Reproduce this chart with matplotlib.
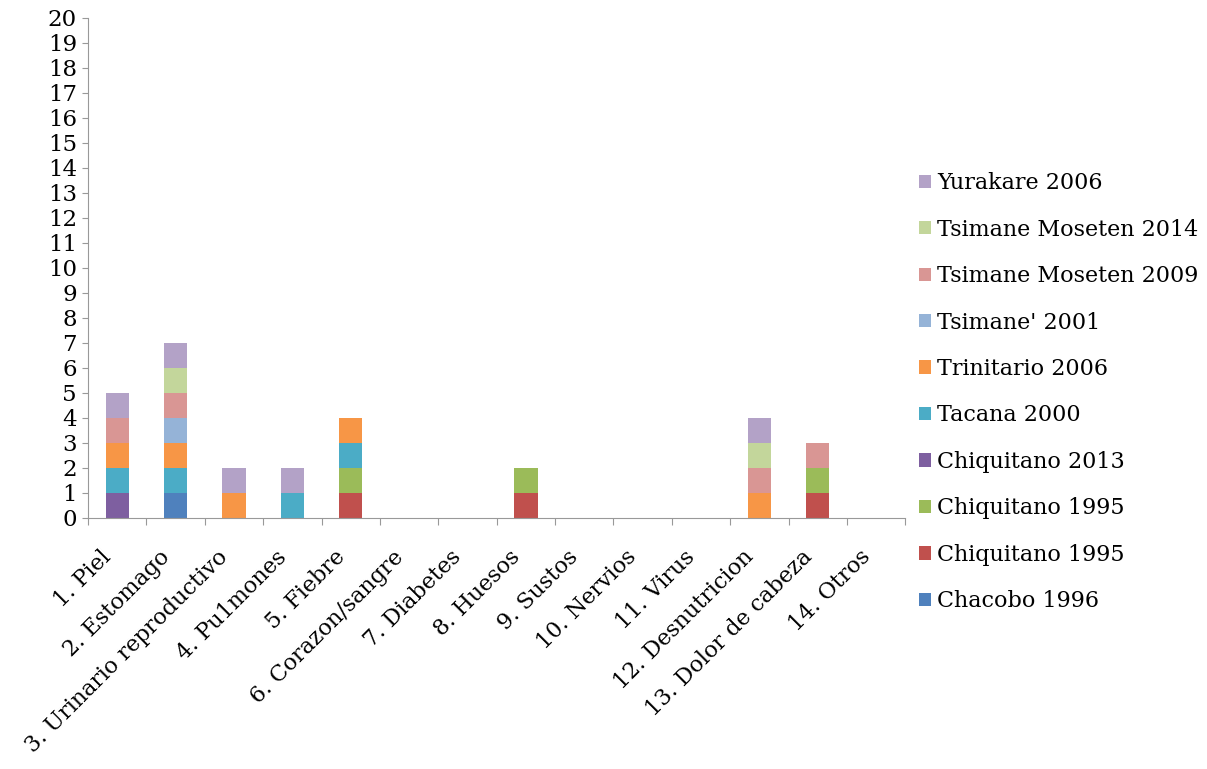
import matplotlib
matplotlib.use("Agg")
import matplotlib.pyplot as plt
import matplotlib.transforms as mtransforms
import numpy as np

plt.rcParams['font.family'] = ['DejaVu Serif']

categories = ["1. Piel", "2. Estomago", "3. Urinario reproductivo", "4. Pu1mones",
              "5. Fiebre", "6. Corazon/sangre", "7. Diabetes", "8. Huesos",
              "9. Sustos", "10. Nervios", "11. Virus", "12. Desnutricion",
              "13. Dolor de cabeza", "14. Otros"]

# stacked bottom -> top
series_names = ["Chacobo 1996", "Chiquitano 1995", "Chiquitano 1995", "Chiquitano 2013",
                "Tacana 2000", "Trinitario 2006", "Tsimane' 2001",
                "Tsimane Moseten 2009", "Tsimane Moseten 2014", "Yurakare 2006"]
colors = ['#4F81BD', '#C0504D', '#9BBB59', '#7E5FA0', '#4BACC6', '#F79646',
          '#95B3D7', '#D99694', '#C3D69B', '#B3A2C7']

chacobo_1996    = [0, 1, 0, 0, 0, 0, 0, 0, 0, 0, 0, 0, 0, 0]
chiquitano_95a  = [0, 0, 0, 0, 1, 0, 0, 1, 0, 0, 0, 0, 1, 0]
chiquitano_95b  = [0, 0, 0, 0, 1, 0, 0, 1, 0, 0, 0, 0, 1, 0]
chiquitano_2013 = [1, 0, 0, 0, 0, 0, 0, 0, 0, 0, 0, 0, 0, 0]
tacana_2000     = [1, 1, 0, 1, 1, 0, 0, 0, 0, 0, 0, 0, 0, 0]
trinitario_2006 = [1, 1, 1, 0, 1, 0, 0, 0, 0, 0, 0, 1, 0, 0]
tsimane_2001    = [0, 1, 0, 0, 0, 0, 0, 0, 0, 0, 0, 0, 0, 0]
moseten_2009    = [1, 1, 0, 0, 0, 0, 0, 0, 0, 0, 0, 1, 1, 0]
moseten_2014    = [0, 1, 0, 0, 0, 0, 0, 0, 0, 0, 0, 1, 0, 0]
yurakare_2006   = [1, 1, 1, 1, 0, 0, 0, 0, 0, 0, 0, 1, 0, 0]

series = [chacobo_1996, chiquitano_95a, chiquitano_95b, chiquitano_2013, tacana_2000,
          trinitario_2006, tsimane_2001, moseten_2009, moseten_2014, yurakare_2006]

fig = plt.figure(figsize=(12.07, 7.69), dpi=100)
ax = fig.add_axes([0.073, 0.327, 0.677, 0.65])

x = np.arange(len(categories))
bottom = np.zeros(len(categories))
handles = []
for name, vals, c in zip(series_names, series, colors):
    vals = np.array(vals, dtype=float)
    b = ax.bar(x, vals, width=0.4, bottom=bottom, color=c, label=name)
    handles.append(b)
    bottom += vals

ax.set_xlim(-0.5, len(categories) - 0.5)
ax.set_ylim(0, 20)
ax.set_yticks(range(0, 21))
ax.tick_params(axis='y', labelsize=16.5, length=4, color='#999999', pad=4)
# tick marks sit between categories, labels under the bars
ax.set_xticks(np.arange(-0.5, len(categories), 1.0))
ax.set_xticklabels([])
ax.tick_params(axis='x', length=5, color='#999999')
ax.set_xticks(x, minor=True)
ax.set_xticklabels(categories, minor=True, rotation=45, ha='right',
                   rotation_mode='anchor', fontsize=16)
ax.tick_params(axis='x', which='minor', length=0, pad=14)
shift = mtransforms.ScaledTranslation(-0.17, -0.09, fig.dpi_scale_trans)
for lbl in ax.get_xticklabels(minor=True):
    lbl.set_transform(lbl.get_transform() + shift)

for s in ['top', 'right']:
    ax.spines[s].set_visible(False)
for s in ['left', 'bottom']:
    ax.spines[s].set_color('#999999')

leg = fig.legend(handles[::-1], series_names[::-1], loc='center left',
                 bbox_to_anchor=(0.745, 0.49), frameon=False, fontsize=16,
                 handlelength=0.55, handleheight=0.55, handletextpad=0.25,
                 labelspacing=1.1)

fig.savefig("out.png", dpi=100)
